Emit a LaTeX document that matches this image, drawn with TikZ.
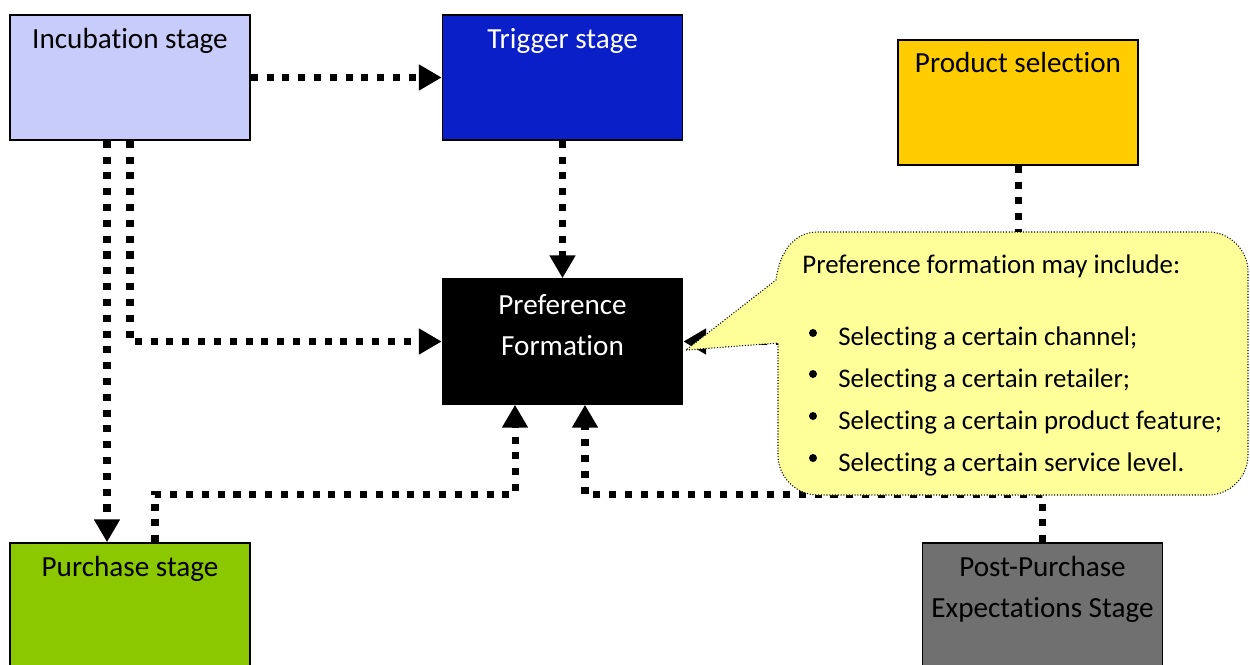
\documentclass[tikz,border=0pt]{standalone}
\usepackage{fontspec}
\setmainfont[Ligatures=NoCommon]{Carlito}
\usetikzlibrary{arrows.meta,positioning}
\definecolor{incubblue}{RGB}{200,204,250}
\definecolor{triggerblue}{RGB}{10,31,200}
\definecolor{productyellow}{RGB}{255,204,0}
\definecolor{purchasegreen}{RGB}{140,200,0}
\definecolor{postgray}{RGB}{112,112,112}
\definecolor{calloutyellow}{RGB}{255,255,153}

\tikzset{
  stagebox/.style={draw=black, line width=0.9pt, minimum width=4.8cm, minimum height=2.5cm, inner sep=0pt},
  stagetext/.style={inner sep=0pt, align=center, font=\fontsize{16.6}{23.3}\selectfont},
  callouttext/.style={inner sep=0pt, font=\fontsize{15.3}{23.3}\selectfont},
  bulletdot/.style={circle, fill=black, inner sep=0pt, minimum size=0.16cm},
  flow/.style={line width=4pt, dash pattern=on 4pt off 5pt, -{Triangle[length=13pt,width=14pt]}},
  callout/.style={fill=calloutyellow, draw=black, line width=0.6pt, densely dotted},
}

\begin{document}
\begin{tikzpicture}[x=0.02cm, y=-0.02cm]
  \clip (0,0) rectangle (1250,664);
  % Stage boxes
  \node[stagebox, fill=incubblue] (incub) at (130,77.5) {};
  \node[stagebox, fill=triggerblue] (trigger) at (562.5,77.5) {};
  \node[stagebox, fill=productyellow] (product) at (1018,102.5) {};
  \node[stagebox, fill=black] (pref) at (562.5,341.5) {};
  \node[stagebox, fill=purchasegreen] (purchase) at (130,605.5) {};
  \node[stagebox, fill=postgray] (post) at (1042.5,605.5) {};
  % Stage names
  \node[stagetext, below=0.28cm of incub.north] (incubtext) {Incubation stage};
  \node[stagetext, white, below=0.28cm of trigger.north] (triggertext) {Trigger stage};
  \node[stagetext, below=0.26cm of product.north] (producttext) {Product selection};
  \node[stagetext, white] (preftext) at (562.5,325) {Preference\\Formation};
  \node[stagetext, below=0.28cm of purchase.north] (purchasetext) {Purchase stage};
  \node[stagetext, below=0.28cm of post.north] (posttext) {Post-Purchase\\Expectations Stage};
  % Dotted flows
  \draw[flow] (incub.east) -- (trigger.west);
  \draw[flow] (trigger.south) -- (pref.north);
  \draw[flow] ([xshift=-0.46cm]incub.south) -- ([xshift=-0.46cm]purchase.north);
  \draw[flow] (incub.south) |- (pref.west);
  \draw[flow] ([xshift=0.5cm]purchase.north) -- ++(0,-48) -| ([xshift=-0.95cm]pref.south);
  \draw[flow] (post.north) -- ++(0,-48) -| ([xshift=0.45cm]pref.south);
  \draw[flow] (product.south) |- (pref.east);
  % Callout
  \coordinate (tip) at (686,350);
  \draw[callout] (tip) -- (778,343) -- (778,455)
    .. controls (778,477) and (796,495) .. (818,495) -- (1208,495)
    .. controls (1230,495) and (1248,477) .. (1248,455) -- (1248,272)
    .. controls (1248,250) and (1230,232) .. (1208,232) -- (818,232)
    .. controls (795,232) and (780,250) .. (776,280) -- cycle;
  \node[callouttext, anchor=base west] (ctitle) at (802,273) {Preference formation may include:};
  \node[bulletdot] (dot1) at (813,333) {};
  \node[callouttext, anchor=base west] (item1) at (838,345) {Selecting a certain channel;};
  \node[bulletdot] (dot2) at (813,374) {};
  \node[callouttext, anchor=base west] (item2) at (838,387) {Selecting a certain retailer;};
  \node[bulletdot] (dot3) at (813,416) {};
  \node[callouttext, anchor=base west] (item3) at (838,429) {Selecting a certain product feature;};
  \node[bulletdot] (dot4) at (813,458) {};
  \node[callouttext, anchor=base west] (item4) at (838,471) {Selecting a certain service level.};
\end{tikzpicture}
\end{document}
